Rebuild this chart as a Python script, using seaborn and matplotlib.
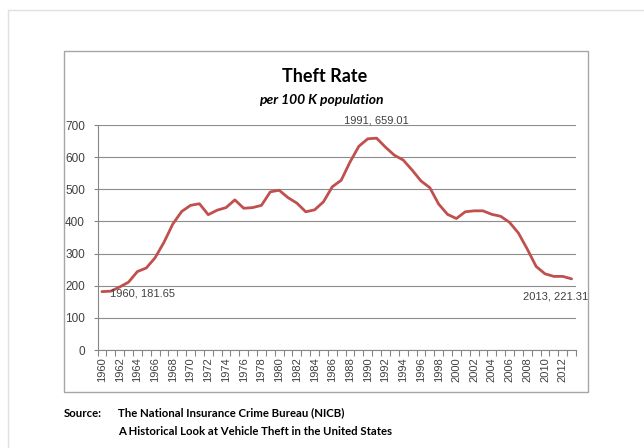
import seaborn as sns
import matplotlib.pyplot as plt
import matplotlib.patches as mpatches
import pandas as pd

years = list(range(1960, 2014))
rates = [181.65, 183, 196, 211, 244, 255, 287, 335, 392, 431,
         450, 455, 421, 435, 443, 467, 441, 443, 450, 492,
         497, 474, 457, 430, 436, 461, 508, 528, 585, 634,
         657, 659.01, 631, 606, 591, 560, 526, 505, 454, 422,
         409, 430, 433, 433, 422, 416, 397, 364, 314, 260,
         237, 229, 229, 221.31]
even_years = [y for y in years if y % 2 == 0]
yticks = [0, 100, 200, 300, 400, 500, 600, 700]
notes = [(1960, 181.65), (1991, 659.01), (2013, 221.31)]

df = pd.DataFrame({"Year": years, "Rate": rates})

sns.set_theme(style="white")
plt.rcParams["font.family"] = ["Lato", "DejaVu Sans"]
tick_font = ["Liberation Sans", "DejaVu Sans"]

fig = plt.figure(figsize=(6.44, 4.48), dpi=100)
ax = fig.add_axes([97.5 / 644, 1 - 350 / 448, (576 - 97.5) / 644, (350 - 125) / 448])

sns.lineplot(data=df, x="Year", y="Rate", color="#C0504D", linewidth=2, ax=ax)

ax.set_xlim(1959.5, 2013.5)
ax.set_ylim(0, 700)
ax.set_yticks(yticks)
ax.set_xticks(even_years)
ax.set_xticks([y - 0.5 for y in years] + [2013.5], minor=True)
ax.tick_params(axis="x", which="major", length=0, labelrotation=90, labelsize=8,
               colors="#404040", pad=5)
ax.tick_params(axis="x", which="minor", length=4, color="#868686", bottom=True, width=0.8)
ax.tick_params(axis="y", length=3, width=0.8, color="#868686", left=True,
               labelsize=8.5, colors="#404040", pad=6)
ax.tick_params(axis="y", color="#868686")
for lab in ax.get_xticklabels() + ax.get_yticklabels():
    lab.set_family(tick_font)
ax.grid(axis="y", color="#8c8c8c", linewidth=0.8)
for s in ["top", "right"]:
    ax.spines[s].set_visible(False)
for s in ["left", "bottom"]:
    ax.spines[s].set_color("#868686")
    ax.spines[s].set_linewidth(0.8)
ax.set_xlabel("")
ax.set_ylabel("")

# data labels
ax.annotate(f"{notes[0][0]}, {notes[0][1]}", xy=notes[0], xytext=(6, -1),
            textcoords="offset points", fontsize=8, color="#404040",
            family=tick_font, ha="left", va="center")
ax.annotate(f"{notes[1][0]}, {notes[1][1]}", xy=notes[1], xytext=(0, 12.5),
            textcoords="offset points", fontsize=8, color="#404040",
            family=tick_font, ha="center", va="center", annotation_clip=False)
ax.annotate(f"{notes[2][0]}, {notes[2][1]}", xy=notes[2], xytext=(-35, -12.5),
            textcoords="offset points", fontsize=8, color="#404040",
            family=tick_font, ha="left", va="center", annotation_clip=False)

fig.text(325 / 644, 1 - 76 / 448, "Theft Rate", ha="center", va="center",
         fontsize=13, fontweight="bold", color="black")
fig.text(321 / 644, 1 - 100 / 448, "per 100 K population", ha="center", va="center",
         fontsize=10, fontweight="bold", style="italic", color="black")

# chart box and page border
fig.add_artist(mpatches.Rectangle((64 / 644, 1 - 392 / 448), (588 - 64) / 644, (392 - 51) / 448,
                                  transform=fig.transFigure, fill=False,
                                  edgecolor="#a6a6a6", linewidth=1))
fig.add_artist(plt.Line2D([8 / 644, 1], [1 - 10.5 / 448, 1 - 10.5 / 448],
                          transform=fig.transFigure, color="#e0e0e0", linewidth=1))
fig.add_artist(plt.Line2D([8 / 644, 8 / 644], [0, 1 - 10.5 / 448],
                          transform=fig.transFigure, color="#e0e0e0", linewidth=1))

fig.text(64 / 644, 1 - 413 / 448, "Source:", ha="left", va="center",
         fontsize=8.2, fontweight="bold", color="black")
fig.text(118 / 644, 1 - 413 / 448, "The National Insurance Crime Bureau (NICB)",
         ha="left", va="center", fontsize=8.2, fontweight="bold", color="black")
fig.text(118 / 644, 1 - 431 / 448, "A Historical Look at Vehicle Theft in the United States",
         ha="left", va="center", fontsize=8.2, fontweight="bold", color="black")

plt.savefig("out.png", dpi=100)
